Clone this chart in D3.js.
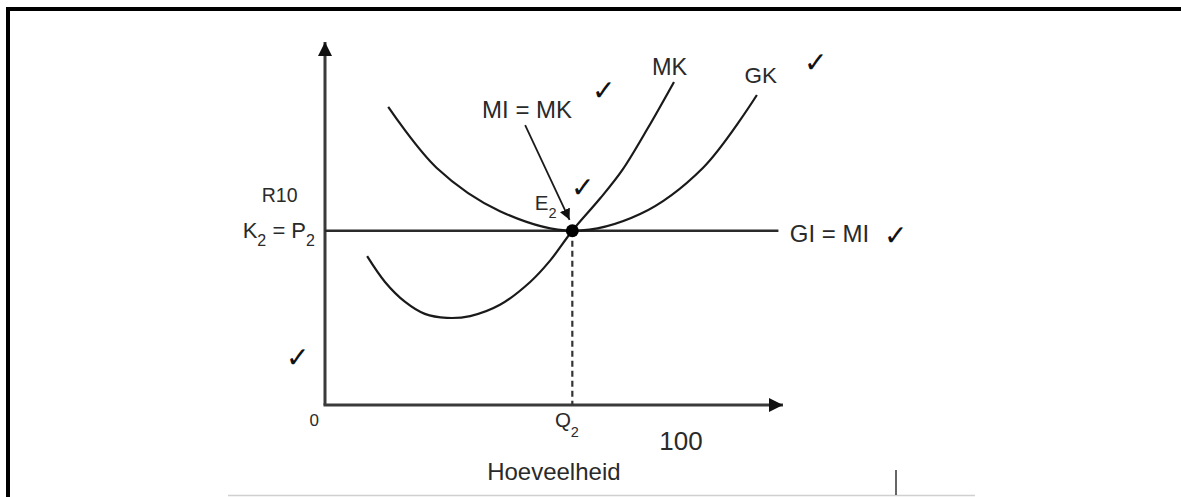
<!DOCTYPE html>
<html>
<head>
<meta charset="utf-8">
<script src="https://cdn.jsdelivr.net/npm/d3@7"></script>
<style>
  html, body { margin: 0; padding: 0; background: #fff; }
  svg { display: block; }
  text { font-family: "Liberation Sans", Arial, sans-serif; fill: #2a2a2a; }
  .chk { font-family: "DejaVu Sans", sans-serif; font-weight: 200; fill: #111; }
</style>
</head>
<body>
<svg id="chart" width="1181" height="497"></svg>
<script>
// ---- data (quantity 0..100, price/cost 0..100) ----
const Q2 = 54;          // equilibrium quantity
const P2 = 48;          // equilibrium price = cost (K2 = P2)
const giMiEnd = 99;     // end of horizontal GI = MI line
const mkQ = [9.2, 13.1, 17.5, 21.8, 26.6, 31.7, 38.2, 44.8, 49.1, 54, 60.0, 64.9, 70.5, 76.2];
const mkC = [41.0, 33.9, 28.4, 25.1, 24.0, 24.5, 27.6, 33.9, 39.7, 48, 56.8, 64.7, 76.3, 89.0];
const gkQ = [13.8, 24.4, 38.2, 54, 68.8, 82.5, 94.3];
const gkC = [82.1, 65.3, 53.4, 48, 52.6, 65.3, 85.4];
const axisMax = [100, 100];

const svg = d3.select("#chart");
const x = d3.scaleLinear().domain([0, 100]).range([325, 783]);
const y = d3.scaleLinear().domain([0, 100]).range([405, 42]);

// frame
svg.append("line").attr("x1", 6).attr("x2", 1181).attr("y1", 9).attr("y2", 9)
  .attr("stroke", "#000").attr("stroke-width", 4);
svg.append("line").attr("x1", 8).attr("x2", 8).attr("y1", 7).attr("y2", 497)
  .attr("stroke", "#000").attr("stroke-width", 4);
svg.append("line").attr("x1", 228).attr("x2", 975).attr("y1", 495.5).attr("y2", 495.5)
  .attr("stroke", "#d0d0d0").attr("stroke-width", 1.5);
svg.append("line").attr("x1", 896).attr("x2", 896).attr("y1", 470).attr("y2", 495)
  .attr("stroke", "#333").attr("stroke-width", 1.5);

// markers
const defs = svg.append("defs");
defs.append("marker").attr("id", "ah").attr("viewBox", "0 0 10 10")
  .attr("refX", 10).attr("refY", 5).attr("markerWidth", 11).attr("markerHeight", 11)
  .attr("markerUnits", "userSpaceOnUse").attr("orient", "auto")
  .append("path").attr("d", "M0,0 L10,5 L0,10 Z").attr("fill", "#111");
defs.append("marker").attr("id", "axh").attr("viewBox", "0 0 10 10")
  .attr("refX", 10).attr("refY", 5).attr("markerWidth", 14).attr("markerHeight", 16)
  .attr("markerUnits", "userSpaceOnUse").attr("orient", "auto")
  .append("path").attr("d", "M0,0 L10,5 L0,10 Z").attr("fill", "#111");

// axes
svg.append("line").attr("x1", x(0)).attr("y1", y(0)).attr("x2", x(0)).attr("y2", y(axisMax[1]))
  .attr("stroke", "#3a3a3a").attr("stroke-width", 3).attr("marker-end", "url(#axh)");
svg.append("line").attr("x1", x(0) - 1.5).attr("y1", y(0)).attr("x2", x(axisMax[0])).attr("y2", y(0))
  .attr("stroke", "#3a3a3a").attr("stroke-width", 3).attr("marker-end", "url(#axh)");

// GI = MI line
svg.append("line").attr("x1", x(0)).attr("x2", x(giMiEnd)).attr("y1", y(P2)).attr("y2", y(P2))
  .attr("stroke", "#2a2a2a").attr("stroke-width", 2.6);

// dashed Q2
svg.append("line").attr("x1", x(Q2)).attr("x2", x(Q2)).attr("y1", y(P2)).attr("y2", y(0))
  .attr("stroke", "#333").attr("stroke-width", 2.2).attr("stroke-dasharray", "6,4");

// curves
const line = d3.line().x(d => x(d[0])).y(d => y(d[1])).curve(d3.curveCatmullRom.alpha(0.5));
svg.append("path").datum(mkQ.map((q, i) => [q, mkC[i]])).attr("d", line)
  .attr("fill", "none").attr("stroke", "#1a1a1a").attr("stroke-width", 2.2);
svg.append("path").datum(gkQ.map((q, i) => [q, gkC[i]])).attr("d", line)
  .attr("fill", "none").attr("stroke", "#1a1a1a").attr("stroke-width", 2.2);

// pointer arrow MI = MK -> E2
svg.append("line").attr("x1", x(43.7)).attr("y1", y(77.1)).attr("x2", x(53.4)).attr("y2", y(51.0))
  .attr("stroke", "#1a1a1a").attr("stroke-width", 1.8).attr("marker-end", "url(#ah)");

// equilibrium dot
svg.append("circle").attr("cx", x(Q2)).attr("cy", y(P2)).attr("r", 6.5).attr("fill", "#000");

// labels
function label(txt, xv, yv, fs, anchor) {
  return svg.append("text").attr("x", x(xv)).attr("y", y(yv)).attr("font-size", fs)
    .attr("text-anchor", anchor || "start").text(txt);
}
label("MI = MK", 34.3, 79.1, 24);
label("MK", 71.4, 90.9, 23.5);
label("GK", 91.6, 88.7, 22.5);
label("GI = MI", 101.5, 44.9, 24);
label("R10", -13.8, 55.9, 19.5);
label("0", -3.4, -5.8, 17);
label("100", 73.0, -12.4, 26);
label("Hoeveelheid", 35.4, -20.7, 24);

// subscripted labels
const k = svg.append("text").attr("x", x(-2.2)).attr("y", y(46.0)).attr("font-size", 22)
  .attr("text-anchor", "end");
k.append("tspan").text("K");
k.append("tspan").attr("font-size", 16).attr("dy", 8).text("2");
k.append("tspan").attr("dy", -8).text(" = P");
k.append("tspan").attr("font-size", 16).attr("dy", 8).text("2");

const e = svg.append("text").attr("x", x(45.8)).attr("y", y(53.7)).attr("font-size", 20.5);
e.append("tspan").text("E");
e.append("tspan").attr("font-size", 14.5).attr("dy", 8).text("2");

const q = svg.append("text").attr("x", x(50.2)).attr("y", y(-6.1)).attr("font-size", 20.5);
q.append("tspan").text("Q");
q.append("tspan").attr("font-size", 14.5).attr("dy", 10).text("2");

// check marks
const checks = [[58.3, 84.0], [104.6, 91.7], [53.7, 57.3], [122.1, 44.1], [-8.5, 10.5]];
svg.selectAll("text.chk").data(checks).enter().append("text").attr("class", "chk")
  .attr("x", d => x(d[0])).attr("y", d => y(d[1]))
  .attr("font-size", 28).text("\u2713");
</script>
</body>
</html>
